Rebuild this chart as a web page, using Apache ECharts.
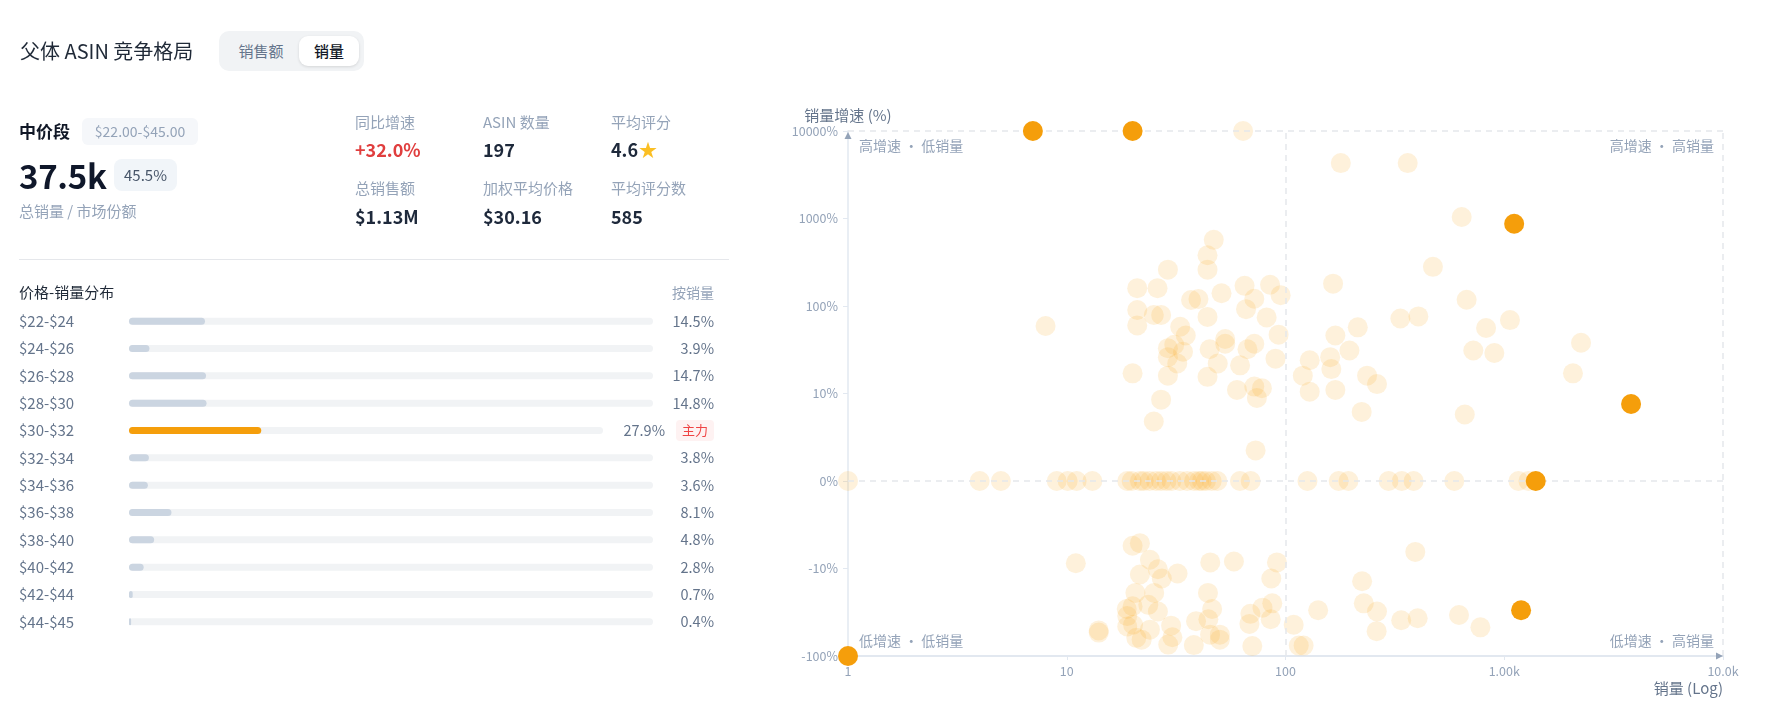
<!DOCTYPE html>
<html><head><meta charset="utf-8">
<script src="https://cdn.jsdelivr.net/npm/echarts@6/dist/echarts.min.js"></script>
<style>
html,body{margin:0;padding:0;background:#fff;}
body{width:1771px;height:728px;overflow:hidden;font-family:"Noto Sans CJK SC","Noto Sans",sans-serif;}
#wrap{position:relative;width:1771px;height:728px;}
#chart{position:absolute;left:0;top:0;width:1771px;height:728px;}
.t{position:absolute;white-space:nowrap;}
</style></head><body>
<div id="wrap">
<div id="chart"></div>
<div class="t" style="left:20px;top:37px;line-height:28px;font-size:20px;color:#1f2937;">父体 ASIN 竞争格局</div>
<div class="t" style="left:219px;top:31px;width:145px;height:40px;background:#f1f3f5;border-radius:10px;"></div>
<div class="t" style="left:299px;top:36px;width:60px;height:30px;background:#fff;border-radius:9px;box-shadow:0 1px 3px rgba(0,0,0,0.12);"></div>
<div class="t" style="left:231px;top:31px;width:60px;line-height:40px;text-align:center;font-size:15px;color:#64748b;">销售额</div>
<div class="t" style="left:299px;top:31px;width:60px;line-height:40px;text-align:center;font-size:15px;color:#111827;font-weight:500;">销量</div>

<div class="t" style="left:19px;top:118px;line-height:26px;font-size:17px;font-weight:700;color:#111827;">中价段</div>
<div class="t" style="left:82px;top:118px;width:116px;height:27px;line-height:27px;background:#f5f7fa;border-radius:6px;text-align:center;font-size:14px;color:#94a3b8;" id="rangeBadge"></div>
<div class="t" style="left:19px;top:153px;line-height:44px;font-size:33px;font-weight:700;color:#0f172a;letter-spacing:-0.3px;" id="bigVal"></div>
<div class="t" style="left:114px;top:159px;width:63px;height:32px;line-height:32px;background:#f1f5f9;border-radius:8px;text-align:center;font-size:15px;color:#475569;" id="shareBadge"></div>
<div class="t" style="left:19px;top:200px;line-height:22px;font-size:15px;color:#94a3b8;">总销量 / 市场份额</div>
<div id="stats"></div>
<div class="t" style="left:19px;top:259px;width:710px;height:1px;background:#e5e7eb;"></div>
<div class="t" style="left:19px;top:281px;line-height:22px;font-size:15px;color:#1f2937;">价格-销量分布</div>
<div class="t" style="right:1057px;top:281px;line-height:22px;font-size:14px;color:#94a3b8;">按销量</div>
</div>
<script>
// ---------- data ----------
const segRange = '$22.00-$45.00';
const segTotal = '37.5k';
const segShare = '45.5%';
const statLabels = ['同比增速', 'ASIN 数量', '平均评分', '总销售额', '加权平均价格', '平均评分数'];
const statValues = ['+32.0%', '197', '4.6', '$1.13M', '$30.16', '585'];

const priceBands = ['$22-$24', '$24-$26', '$26-$28', '$28-$30', '$30-$32', '$32-$34', '$34-$36', '$36-$38', '$38-$40', '$40-$42', '$42-$44', '$44-$45'];
const bandShares = [14.5, 3.9, 14.7, 14.8, 27.9, 3.8, 3.6, 8.1, 4.8, 2.8, 0.7, 0.4];

const growthTicks = ['-100%', '-10%', '0%', '10%', '100%', '1000%', '10000%'];

// highlighted ASINs [sales, growth %]
const keyAsins = [[7, 10000], [20, 10000], [1110, 870], [3800, 8.8], [1393, 0], [1194, -30], [1, -100]];

// other ASINs [sales, growth %]
const otherAsins = [
  [64, 10000], [179, 4300], [362, 4300], [639, 1040], [47, 570], [44, 380], [44, 260], [29, 260], [472, 280], [165, 180],
  [21, 160], [26, 160], [37, 117], [40, 120], [51, 140], [65, 170], [85, 175], [72, 121], [95, 133], [673, 118],
  [66, 92], [21, 90], [25, 79], [27, 79], [44, 75], [82, 74], [335, 72], [405, 76], [1062, 69], [8, 59],
  [21, 60], [33, 58], [35, 46], [93, 47], [53, 42], [169, 46], [214, 57], [826, 56], [53, 37], [72, 37],
  [67, 32], [45, 32], [29, 33], [34, 30], [31, 36], [196, 31], [722, 31], [901, 29], [2244, 38], [29, 26],
  [32, 22], [49, 22], [62, 21], [90, 25], [129, 24], [160, 26], [120, 16], [162, 19], [236, 16], [2061, 17],
  [20, 17], [29, 16], [44, 15.5], [262, 12.8], [60, 11], [72, 12], [78, 11.5], [129, 10.5], [169, 11], [27, 9.3],
  [25, 6.8], [74, 9.5], [223, 7.9], [660, 7.6], [73, 3.5],
  [1, 0], [4, 0], [5, 0], [9, 0], [10.1, 0], [11.1, 0], [13.1, 0], [18.9, 0], [19.8, 0], [21.6, 0],
  [22.5, 0], [23.9, 0], [25.6, 0], [27, 0], [28.6, 0], [30.1, 0], [32.9, 0], [35.5, 0], [38.2, 0], [40.2, 0],
  [41.5, 0], [43.3, 0], [46, 0], [48.8, 0], [61.9, 0], [69.3, 0], [126, 0], [175, 0], [194, 0], [296, 0],
  [340, 0], [385, 0], [591, 0], [1161, 0], [1290, 0],
  [20, -7.4], [21.6, -7.1], [11, -9.4], [21.6, -11.7], [20.6, -19], [20, -27], [18.9, -35], [18.9, -46], [20.1, -44], [14, -51],
  [14, -54], [20.8, -62], [24, -9], [26.1, -10.2], [27.2, -13], [32.1, -11.4], [45.3, -9.3], [58.1, -9.2], [91.4, -9.3], [86.1, -13],
  [25.1, -19], [44.2, -19], [18.8, -29], [26.1, -31], [23.6, -26], [46.2, -29], [39, -40], [44.4, -38], [30, -45], [24, -50],
  [22, -65], [29.1, -74], [30.4, -61], [38.1, -75], [50.1, -57], [50.1, -65], [45.2, -57], [69.1, -33], [68.4, -43], [78.5, -28],
  [87, -25], [85.6, -38], [70.5, -77], [109, -44], [115, -76], [121, -76], [141, -30], [224, -14], [228, -25], [262, -31],
  [261, -52], [338, -39], [402, -37], [392, -8.1], [621, -34], [778, -47]
];

// ---------- HTML text ----------
document.getElementById('rangeBadge').textContent = segRange;
document.getElementById('bigVal').textContent = segTotal;
document.getElementById('shareBadge').textContent = segShare;
const colX = [355, 483, 611];
const rowLabelY = [111, 177];
const rowValY = [136, 203];
let html = '';
statLabels.forEach((lab, i) => {
  const c = i % 3, r = Math.floor(i / 3);
  html += `<div class="t" style="left:${colX[c]}px;top:${rowLabelY[r]}px;line-height:22px;font-size:15px;color:#94a3b8;">${lab}</div>`;
  let val = statValues[i];
  let color = '#1e293b';
  if (i === 0) color = '#e03e3e';
  if (i === 2) val = val + '<span style="color:#fbbf24;font-size:18px;margin-left:1px;">★</span>';
  html += `<div class="t" style="left:${colX[c]}px;top:${rowValY[r]}px;line-height:26px;font-size:18px;font-weight:700;color:${color};">${val}</div>`;
});
document.getElementById('stats').innerHTML = html;

// ---------- chart ----------
const FONT = '"Noto Sans CJK SC","Noto Sans",sans-serif';
const tf = g => g === 0 ? 0 : Math.sign(g) * (Math.abs(g) <= 10 ? Math.abs(g) / 10 : Math.log10(Math.abs(g)));
const mainIdx = bandShares.indexOf(Math.max(...bandShares));

const chart = echarts.init(document.getElementById('chart'), null, {renderer: 'canvas'});
const barBase = {type: 'bar', barWidth: 7, silent: true};

const option = {
  animation: false,
  textStyle: {fontFamily: FONT},
  grid: [
    {left: 129, right: 1118, top: 307.5, bottom: 92.5},
    {left: 129, right: 1168, top: 307.5, bottom: 92.5},
    {left: 848, right: 48, top: 131, bottom: 72}
  ],
  xAxis: [
    {gridIndex: 0, type: 'value', min: 0, max: 100, show: false},
    {gridIndex: 1, type: 'value', min: 0, max: 100, show: false},
    {gridIndex: 2, type: 'log', logBase: 10, min: 1, max: 10000,
      axisLine: {show: true, onZero: false, lineStyle: {color: '#e2e8f0', width: 2}},
      axisTick: {show: true, length: 4, lineStyle: {color: '#e2e8f0'}},
      splitLine: {show: false},
      axisLabel: {color: '#94a3b8', fontSize: 12.5, margin: 9,
        formatter: v => v < 1000 ? String(v) : (v / 1000).toPrecision(3) + 'k'},
      name: '销量 (Log)', nameLocation: 'end', nameGap: 0,
      nameTextStyle: {color: '#64748b', fontSize: 15, align: 'right', verticalAlign: 'top', padding: [25, 0, 0, 0]}
    }
  ],
  yAxis: [
    {gridIndex: 0, type: 'category', data: priceBands, inverse: true, position: 'left',
      axisLine: {show: false}, axisTick: {show: false},
      axisLabel: {align: 'left', margin: 110, color: '#64748b', fontSize: 15}},
    {gridIndex: 0, type: 'category', data: priceBands, inverse: true, position: 'right',
      axisLine: {show: false}, axisTick: {show: false},
      axisLabel: {align: 'right', margin: 61, color: '#64748b', fontSize: 14.5,
        formatter: (v, i) => i === mainIdx ? '' : bandShares[i].toFixed(1) + '%'}},
    {gridIndex: 1, type: 'category', data: priceBands, inverse: true, position: 'right',
      axisLine: {show: false}, axisTick: {show: false},
      axisLabel: {align: 'right', margin: 111, interval: 0,
        formatter: (v, i) => i === mainIdx ? '{v|' + bandShares[i].toFixed(1) + '%}{b|主力}' : '',
        rich: {
          v: {color: '#64748b', fontSize: 14.5, padding: [0, 11, 0, 0], fontFamily: FONT},
          b: {color: '#ef4444', fontSize: 13, backgroundColor: '#fef2f2', borderRadius: 4, padding: [4, 6], fontFamily: FONT}
        }}},
    {gridIndex: 2, type: 'value', min: -2, max: 4, interval: 1,
      axisLine: {show: true, onZero: false, lineStyle: {color: '#e2e8f0', width: 1.5}},
      axisTick: {show: true, length: 5, lineStyle: {color: '#e2e8f0'}},
      splitLine: {show: false},
      axisLabel: {color: '#94a3b8', fontSize: 12.5, margin: 10,
        formatter: v => growthTicks[Math.round(v) + 2]},
      name: '销量增速 (%)', nameLocation: 'end', nameGap: 8,
      nameTextStyle: {color: '#64748b', fontSize: 15}
    }
  ],
  series: [
    Object.assign({}, barBase, {xAxisIndex: 0, yAxisIndex: 0, z: 1,
      data: bandShares.map((v, i) => i === mainIdx ? '-' : 100),
      itemStyle: {color: '#f1f3f5', borderRadius: 4}}),
    Object.assign({}, barBase, {xAxisIndex: 0, yAxisIndex: 0, z: 2, barGap: '-100%',
      data: bandShares.map((v, i) => i === mainIdx ? '-' : v),
      itemStyle: {color: '#cbd5e1', borderRadius: 4}}),
    Object.assign({}, barBase, {xAxisIndex: 1, yAxisIndex: 2, z: 1,
      data: bandShares.map((v, i) => i === mainIdx ? 100 : '-'),
      itemStyle: {color: '#f1f3f5', borderRadius: 4}}),
    Object.assign({}, barBase, {xAxisIndex: 1, yAxisIndex: 2, z: 2, barGap: '-100%',
      data: bandShares.map((v, i) => i === mainIdx ? v : '-'),
      itemStyle: {color: '#f59e0b', borderRadius: 4}}),
    {type: 'scatter', xAxisIndex: 2, yAxisIndex: 3, symbolSize: 20, clip: false, silent: true,
      data: otherAsins.map(p => [p[0], tf(p[1])]),
      itemStyle: {color: '#f59e0b', opacity: 0.15},
      markLine: {silent: true, symbol: ['none', 'none'], label: {show: false},
        lineStyle: {type: [6, 5], color: '#e5e7eb', width: 1.5},
        data: [{yAxis: tf(10000)}, {yAxis: tf(0)}, {xAxis: 100}, {xAxis: 10000}]}
    },
    {type: 'scatter', xAxisIndex: 2, yAxisIndex: 3, symbolSize: 20, clip: false, silent: true, z: 5,
      data: keyAsins.map(p => [p[0], tf(p[1])]),
      itemStyle: {color: '#f59e0b', opacity: 1}}
  ],
  graphic: [
    {type: 'text', x: 859, y: 146, silent: true, style: {text: '高增速 · 低销量', fill: '#94a3b8', font: '14px ' + FONT, textAlign: 'left', textVerticalAlign: 'middle'}},
    {type: 'text', x: 1714, y: 146, silent: true, style: {text: '高增速 · 高销量', fill: '#94a3b8', font: '14px ' + FONT, textAlign: 'right', textVerticalAlign: 'middle'}},
    {type: 'text', x: 859, y: 641, silent: true, style: {text: '低增速 · 低销量', fill: '#94a3b8', font: '14px ' + FONT, textAlign: 'left', textVerticalAlign: 'middle'}},
    {type: 'text', x: 1714, y: 641, silent: true, style: {text: '低增速 · 高销量', fill: '#94a3b8', font: '14px ' + FONT, textAlign: 'right', textVerticalAlign: 'middle'}},
    {type: 'polygon', silent: true, z: 10, shape: {points: [[844.5, 139], [851.5, 139], [848, 132]]}, style: {fill: '#94a3b8'}},
    {type: 'polygon', silent: true, z: 10, shape: {points: [[1716, 652.5], [1716, 659.5], [1723, 656]]}, style: {fill: '#94a3b8'}}
  ]
};
chart.setOption(option);
</script>
</body></html>
